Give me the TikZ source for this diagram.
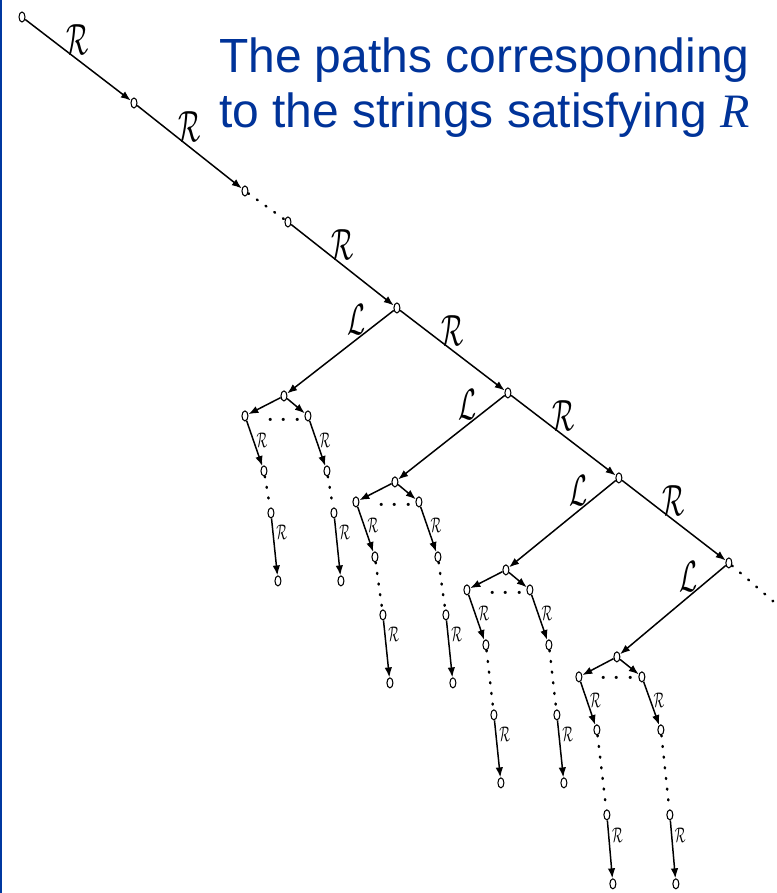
\documentclass[tikz,border=0pt]{standalone}
\usepackage{fontspec}
\usepackage{tikz}
\usetikzlibrary{positioning,arrows.meta,shapes.geometric}
\setmainfont{Liberation Sans}
\newfontfamily\timesfont{Liberation Serif}
\definecolor{titleblue}{RGB}{0,51,153}
\definecolor{frameblue}{RGB}{0,56,160}
\newcommand{\pathR}{\scalebox{0.6}[1]{$\mathcal{R}$}}
\newcommand{\pathL}{\scalebox{0.6}[1]{$\mathcal{L}$}}
\tikzset{
    state/.style={draw=black, fill=white, ellipse, minimum width=0.12cm, minimum height=0.2cm, inner sep=0pt, line width=0.6pt},
    arrow/.style={-{Latex[length=2mm,width=1.5mm]}, line width=0.85pt, draw=black},
    dots/.style={draw=black, line width=1.4pt, dash pattern=on 0.6pt off 5.5pt, line cap=round},
    biglab/.style={font=\fontsize{23}{23}\selectfont, inner sep=2.5pt},
    smalllab/.style={font=\fontsize{12.5}{12.5}\selectfont, inner sep=1.5pt},
    gap/.style={font=\fontsize{16}{16}\selectfont, inner sep=0pt},
    title/.style={text=titleblue, align=right, font=\fontsize{27.3}{31.3}\selectfont, inner sep=0pt}
}

\begin{document}
\begin{tikzpicture}[x=0.02cm, y=-0.02cm, on grid]
\useasboundingbox (0,0) rectangle (777,893);
\fill[white] (0,0) rectangle (777,893);
\draw[frameblue, line width=0.04cm] (1,0) -- (1,893);
\node[title, anchor=base east] (caption) at (750,127) {The paths corresponding\\to the strings satisfying {\timesfont\itshape R}};
% main path of R steps
\node[state] (s0) at (22,17) {};
\node[state, below right=1.72cm and 2.24cm of s0] (s1) {};
\node[state, below right=1.76cm and 2.22cm of s1] (s2) {};
\node[state, below right=0.62cm and 0.86cm of s2] (s3) {};
\node[state, below right=1.72cm and 2.18cm of s3] (s4) {};
\node[state, below right=1.7cm and 2.22cm of s4] (s5) {};
\node[state, below right=1.7cm and 2.22cm of s5] (s6) {};
\node[state, below right=1.7cm and 2.2cm of s6] (s7) {};
\coordinate[below right=0.78cm and 0.9cm of s7] (more);
\draw[arrow] (s0) -- node[biglab, above] {\pathR} (s1);
\draw[arrow] (s1) -- node[biglab, above] {\pathR} (s2);
\draw[dots] (s2) -- (s3);
\draw[arrow] (s3) -- node[biglab, above] {\pathR} (s4);
\draw[arrow] (s4) -- node[biglab, above] {\pathR} (s5);
\draw[arrow] (s5) -- node[biglab, above] {\pathR} (s6);
\draw[arrow] (s6) -- node[biglab, above] {\pathR} (s7);
\draw[dots] (s7) -- (more);
% first branch
\node[state, below left=1.76cm and 2.26cm of s4] (a) {};
\node[state, below left=0.4cm and 0.78cm of a] (al) {};
\node[state, below right=0.4cm and 0.48cm of a] (ar) {};
\node[gap, below=0.5cm of a] (adots) {$\cdots$};
\node[state, below right=1.1cm and 0.38cm of al] (al1) {};
\node[state, below right=1.1cm and 0.38cm of ar] (ar1) {};
\node[state, below right=0.84cm and 0.14cm of al1] (al2) {};
\node[state, below right=0.84cm and 0.14cm of ar1] (ar2) {};
\node[state, below right=1.36cm and 0.14cm of al2] (al3) {};
\node[state, below right=1.36cm and 0.14cm of ar2] (ar3) {};
\draw[arrow] (s4) -- node[biglab, above, pos=0.35] {\pathL} (a);
\draw[arrow] (a) -- (al);
\draw[arrow] (a) -- (ar);
\draw[arrow] (al) -- node[smalllab, right, pos=0.42] {\pathR} (al1);
\draw[arrow] (ar) -- node[smalllab, right, pos=0.42] {\pathR} (ar1);
\draw[dots] (al1) -- (al2);
\draw[dots] (ar1) -- (ar2);
\draw[arrow] (al2) -- node[smalllab, right, pos=0.25] {\pathR} (al3);
\draw[arrow] (ar2) -- node[smalllab, right, pos=0.25] {\pathR} (ar3);
% second branch
\node[state, below left=1.78cm and 2.26cm of s5] (b) {};
\node[state, below left=0.4cm and 0.78cm of b] (bl) {};
\node[state, below right=0.4cm and 0.48cm of b] (br) {};
\node[gap, below=0.48cm of b] (bdots) {$\cdots$};
\node[state, below right=1.1cm and 0.38cm of bl] (bl1) {};
\node[state, below right=1.1cm and 0.38cm of br] (br1) {};
\node[state, below right=1.16cm and 0.16cm of bl1] (bl2) {};
\node[state, below right=1.16cm and 0.16cm of br1] (br2) {};
\node[state, below right=1.36cm and 0.14cm of bl2] (bl3) {};
\node[state, below right=1.36cm and 0.14cm of br2] (br3) {};
\draw[arrow] (s5) -- node[biglab, above, pos=0.35] {\pathL} (b);
\draw[arrow] (b) -- (bl);
\draw[arrow] (b) -- (br);
\draw[arrow] (bl) -- node[smalllab, right, pos=0.42] {\pathR} (bl1);
\draw[arrow] (br) -- node[smalllab, right, pos=0.42] {\pathR} (br1);
\draw[dots] (bl1) -- (bl2);
\draw[dots] (br1) -- (br2);
\draw[arrow] (bl2) -- node[smalllab, right, pos=0.25] {\pathR} (bl3);
\draw[arrow] (br2) -- node[smalllab, right, pos=0.25] {\pathR} (br3);
% third branch
\node[state, below left=1.84cm and 2.26cm of s6] (c) {};
\node[state, below left=0.4cm and 0.78cm of c] (cl) {};
\node[state, below right=0.4cm and 0.48cm of c] (cr) {};
\node[gap, below=0.48cm of c] (cdots) {$\cdots$};
\node[state, below right=1.1cm and 0.38cm of cl] (cl1) {};
\node[state, below right=1.1cm and 0.38cm of cr] (cr1) {};
\node[state, below right=1.4cm and 0.16cm of cl1] (cl2) {};
\node[state, below right=1.4cm and 0.16cm of cr1] (cr2) {};
\node[state, below right=1.36cm and 0.14cm of cl2] (cl3) {};
\node[state, below right=1.36cm and 0.14cm of cr2] (cr3) {};
\draw[arrow] (s6) -- node[biglab, above, pos=0.35] {\pathL} (c);
\draw[arrow] (c) -- (cl);
\draw[arrow] (c) -- (cr);
\draw[arrow] (cl) -- node[smalllab, right, pos=0.42] {\pathR} (cl1);
\draw[arrow] (cr) -- node[smalllab, right, pos=0.42] {\pathR} (cr1);
\draw[dots] (cl1) -- (cl2);
\draw[dots] (cr1) -- (cr2);
\draw[arrow] (cl2) -- node[smalllab, right, pos=0.25] {\pathR} (cl3);
\draw[arrow] (cr2) -- node[smalllab, right, pos=0.25] {\pathR} (cr3);
% fourth branch
\node[state, below left=1.88cm and 2.24cm of s7] (d) {};
\node[state, below left=0.4cm and 0.76cm of d] (dl) {};
\node[state, below right=0.4cm and 0.5cm of d] (dr) {};
\node[gap, below=0.44cm of d] (ddots) {$\cdots$};
\node[state, below right=1.06cm and 0.36cm of dl] (dl1) {};
\node[state, below right=1.06cm and 0.38cm of dr] (dr1) {};
\node[state, below right=1.7cm and 0.2cm of dl1] (dl2) {};
\node[state, below right=1.7cm and 0.18cm of dr1] (dr2) {};
\node[state, below right=1.38cm and 0.12cm of dl2] (dl3) {};
\node[state, below right=1.38cm and 0.12cm of dr2] (dr3) {};
\draw[arrow] (s7) -- node[biglab, above, pos=0.35] {\pathL} (d);
\draw[arrow] (d) -- (dl);
\draw[arrow] (d) -- (dr);
\draw[arrow] (dl) -- node[smalllab, right, pos=0.42] {\pathR} (dl1);
\draw[arrow] (dr) -- node[smalllab, right, pos=0.42] {\pathR} (dr1);
\draw[dots] (dl1) -- (dl2);
\draw[dots] (dr1) -- (dr2);
\draw[arrow] (dl2) -- node[smalllab, right, pos=0.25] {\pathR} (dl3);
\draw[arrow] (dr2) -- node[smalllab, right, pos=0.25] {\pathR} (dr3);
\end{tikzpicture}
\end{document}
